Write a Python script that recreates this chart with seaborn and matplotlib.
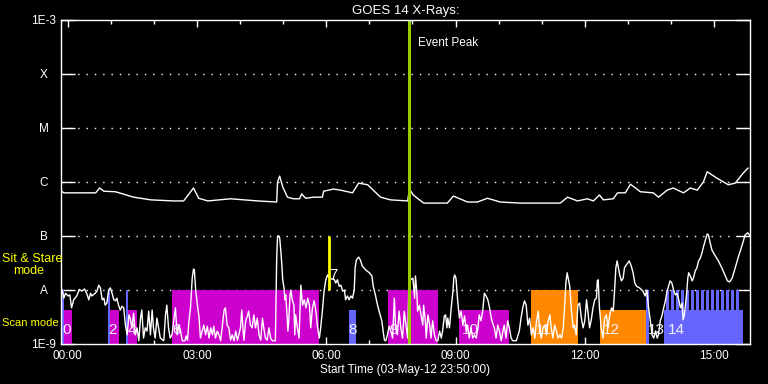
import numpy as np
import matplotlib
matplotlib.use("Agg")
import matplotlib.pyplot as plt
from matplotlib.ticker import MultipleLocator, NullLocator
import seaborn as sns

# time axis: hours after 00:00 (plot starts 23:50 the day before)
# GOES long channel (1-8 A), log10 flux
long_t = [-0.14, -0.09, 0.30, 0.65, 0.74, 0.84, 1.11, 1.53, 1.93, 2.46,
          2.69, 2.92, 3.04, 3.25, 3.78, 4.41, 4.85, 4.87, 4.92, 4.99,
          5.10, 5.24, 5.38, 5.43, 5.52, 5.71, 5.91, 5.94, 6.17, 6.33,
          6.61, 6.75, 6.96, 7.26, 7.49, 7.89, 7.93, 8.02, 8.26, 8.81,
          8.95, 9.28, 9.51, 9.74, 10.04, 10.51, 11.43, 11.60, 11.83, 12.06,
          12.20, 12.34, 12.43, 12.66, 12.76, 12.94, 13.06, 13.29, 13.59, 13.71,
          13.91, 14.05, 14.29, 14.45, 14.61, 14.75, 14.84, 15.07, 15.33, 15.49,
          15.68, 15.79]
long_log = [-6.18, -6.21, -6.21, -6.21, -6.12, -6.18, -6.19, -6.29, -6.34, -6.36,
            -6.36, -6.12, -6.31, -6.36, -6.32, -6.36, -6.38, -6.01, -5.90, -6.10,
            -6.29, -6.32, -6.32, -6.23, -6.31, -6.29, -6.29, -6.18, -6.14, -6.16,
            -6.21, -6.03, -6.06, -6.29, -6.34, -6.36, -6.14, -6.25, -6.40, -6.40,
            -6.27, -6.38, -6.38, -6.31, -6.38, -6.40, -6.40, -6.29, -6.36, -6.32,
            -6.36, -6.25, -6.34, -6.32, -6.21, -6.21, -6.05, -6.19, -6.21, -6.29,
            -6.16, -6.12, -6.21, -6.12, -6.16, -6.01, -5.82, -5.94, -6.06, -6.03,
            -5.84, -5.75]

# short channel (0.5-4 A), log10 flux
short_t = [-0.13, -0.09, -0.05, 0.01, 0.05, 0.09, 0.14, 0.21, 0.27, 0.33,
           0.39, 0.44, 0.49, 0.53, 0.56, 0.64, 0.68, 0.72, 0.76, 0.80,
           0.84, 0.87, 0.91, 0.95, 0.99, 1.03, 1.07, 1.11, 1.14, 1.18,
           1.22, 1.26, 1.30, 1.34, 1.38, 1.42, 1.45, 1.49, 1.53, 1.57,
           1.61, 1.65, 1.69, 1.72, 1.76, 1.80, 1.84, 1.88, 1.92, 1.96,
           1.99, 2.03, 2.07, 2.11, 2.15, 2.23, 2.27, 2.30, 2.34, 2.38,
           2.42, 2.46, 2.50, 2.54,
           2.58, 2.62, 2.66, 2.72, 2.75, 2.78, 2.81, 2.85, 2.89, 2.92,
           2.94, 2.97, 3.01, 3.05, 3.08, 3.12, 3.16, 3.20, 3.24, 3.28,
           3.32, 3.36, 3.39, 3.43, 3.47, 3.51, 3.55, 3.59, 3.63, 3.66,
           3.70, 3.74, 3.78, 3.82, 3.86, 3.90, 3.94, 3.97, 4.01, 4.04,
           4.07, 4.09, 4.13, 4.17, 4.20, 4.24, 4.28, 4.32, 4.36, 4.40,
           4.44, 4.48, 4.52, 4.55, 4.59, 4.63, 4.67, 4.71, 4.75, 4.82,
           4.85, 4.87, 4.90, 4.92, 4.95, 4.97, 4.99, 5.02, 5.04, 5.06,
           5.09, 5.11, 5.13, 5.16, 5.18, 5.21, 5.25, 5.27,
           5.29, 5.33, 5.37, 5.41, 5.45, 5.49, 5.53, 5.57, 5.61, 5.64,
           5.68, 5.72, 5.76, 5.80, 5.84, 5.87, 5.91, 5.95, 5.99, 6.03,
           6.07, 6.19, 6.22, 6.26, 6.30, 6.34, 6.38, 6.42, 6.45, 6.49,
           6.53, 6.57, 6.61, 6.65, 6.67, 6.70, 6.75, 6.79, 6.84, 6.92,
           7.00, 7.06, 7.09, 7.14, 7.19, 7.24, 7.29, 7.32, 7.35, 7.38,
           7.42, 7.46, 7.50, 7.54, 7.58, 7.61, 7.65, 7.69, 7.73, 7.77,
           7.81, 7.85, 7.89, 7.92, 7.96,
           8.01, 8.05, 8.07, 8.10, 8.12, 8.16, 8.20, 8.24, 8.26, 8.30,
           8.32, 8.36, 8.40, 8.43, 8.47, 8.51, 8.55, 8.59, 8.63, 8.67,
           8.70, 8.74, 8.77, 8.80, 8.82, 8.86, 8.90, 8.94, 8.96, 8.98,
           9.01, 9.05, 9.09, 9.13, 9.17, 9.21, 9.25, 9.28, 9.32, 9.36,
           9.40, 9.44, 9.48, 9.52, 9.55, 9.59, 9.63, 9.67, 9.71, 9.75,
           9.79, 9.83, 9.86, 9.90, 9.94, 9.98, 10.02, 10.06, 10.10, 10.13,
           10.17, 10.21, 10.25, 10.29, 10.33, 10.41, 10.48, 10.52, 10.56, 10.60,
           10.64, 10.68,
           10.72, 10.76, 10.80, 10.84, 10.88, 10.92, 10.95, 10.99, 11.03, 11.07,
           11.11, 11.15, 11.19, 11.22, 11.26, 11.30, 11.34, 11.38, 11.42, 11.46,
           11.50, 11.53, 11.56, 11.59, 11.62, 11.65, 11.69, 11.73, 11.76, 11.80,
           11.84, 11.88, 11.92, 11.96, 12.00, 12.04, 12.08, 12.11, 12.15, 12.19,
           12.23, 12.27, 12.29, 12.31, 12.34, 12.38, 12.42, 12.46, 12.50, 12.54,
           12.58, 12.62, 12.66, 12.69, 12.72, 12.75, 12.78, 12.81, 12.85, 12.89,
           12.92, 12.96, 13.03, 13.08, 13.12, 13.16, 13.20, 13.27, 13.35,
           13.40, 13.44, 13.48, 13.52, 13.56, 13.60, 13.64, 13.68, 13.71, 13.75,
           13.79, 13.83, 13.87, 13.91, 13.95, 13.98, 14.02, 14.06, 14.10, 14.14,
           14.18, 14.22, 14.26, 14.28, 14.31, 14.36, 14.39, 14.41, 14.45, 14.49,
           14.52, 14.56, 14.60, 14.64, 14.68, 14.72, 14.76, 14.80, 14.84, 14.87,
           14.91, 14.95, 15.03, 15.10, 15.18, 15.26, 15.31, 15.36, 15.42, 15.49,
           15.57, 15.65, 15.72, 15.78, 15.84]
short_log = [-8.00, -8.16, -8.07, -8.12, -8.10, -8.34, -8.19, -8.12, -8.00, -8.03,
             -7.99, -8.07, -8.19, -8.07, -8.12, -8.07, -8.03, -7.92, -7.97, -8.19,
             -8.16, -8.29, -8.25, -8.01, -7.97, -8.07, -8.19, -8.21, -8.16, -8.29,
             -8.38, -8.31, -8.34, -8.66, -8.84, -8.47, -8.53, -8.71, -8.44, -8.84,
             -8.71, -8.95, -8.53, -8.38, -8.90, -8.71, -8.77, -8.40, -8.84, -8.38,
             -8.71, -8.90, -8.53, -8.71, -8.90, -8.95, -8.47, -8.29, -8.71, -8.90,
             -8.84, -8.58, -8.34, -8.84,
             -8.66, -8.77, -8.95, -8.95, -8.86, -8.94, -8.62, -8.34, -7.79, -7.62,
             -7.64, -8.01, -8.29, -8.53, -8.90, -8.77, -8.66, -8.84, -8.68, -8.90,
             -8.71, -8.84, -8.68, -8.90, -8.77, -8.84, -8.95, -8.66, -8.38, -8.34,
             -8.66, -8.71, -8.94, -8.84, -8.95, -8.77, -8.94, -8.84, -8.71, -8.38,
             -8.75, -8.94, -8.58, -8.49, -8.40, -8.66, -8.71, -8.47, -8.71, -8.53,
             -8.84, -8.94, -8.53, -8.71, -8.90, -8.94, -8.71, -8.90, -8.95, -8.95,
             -7.42, -7.01, -7.01, -7.05, -7.32, -7.55, -7.82, -7.97, -8.19, -8.10,
             -8.47, -8.77, -8.58, -8.10, -8.01, -8.19, -8.29, -8.84,
             -8.47, -8.71, -8.90, -7.92, -8.29, -8.19, -8.34, -8.16, -8.29, -8.71,
             -8.34, -8.21, -8.40, -8.71, -8.90, -8.71, -8.40, -8.03, -7.82, -7.73,
             -7.79, -7.82, -7.88, -7.82, -7.94, -7.92, -8.03, -8.01, -8.19, -8.12,
             -8.19, -8.12, -8.16, -8.01, -7.60, -7.45, -7.40, -7.45, -7.57, -7.64,
             -7.69, -7.75, -7.94, -8.10, -8.29, -8.44, -8.58, -8.77, -8.94, -8.95,
             -8.84, -8.68, -8.77, -8.90, -8.16, -8.71, -8.84, -8.40, -8.71, -8.90,
             -8.40, -8.66, -8.90, -7.75, -7.82,
             -7.79, -8.16, -7.75, -8.03, -8.40, -8.29, -8.47, -8.66, -8.29, -8.58,
             -8.90, -8.47, -8.66, -8.90, -8.58, -8.84, -8.95, -8.95, -8.77, -8.90,
             -8.77, -8.49, -8.47, -8.71, -8.53, -8.71, -8.34, -8.03, -7.79, -7.73,
             -7.79, -8.21, -8.53, -8.40, -8.66, -8.49, -8.77, -8.66, -8.90, -8.71,
             -8.90, -8.84, -8.90, -8.71, -8.47, -8.58, -8.40, -8.07, -8.12, -8.19,
             -8.34, -8.53, -8.62, -8.71, -8.90, -8.66, -8.77, -8.95, -8.77, -8.66,
             -8.90, -8.58, -8.71, -8.90, -8.95, -8.95, -8.77, -8.53, -8.34, -8.21,
             -8.29, -8.66,
             -8.53, -8.84, -8.71, -8.90, -8.58, -8.40, -8.77, -8.90, -8.71, -8.66,
             -8.84, -8.58, -8.47, -8.71, -8.90, -8.66, -8.77, -8.90, -8.84, -8.90,
             -8.71, -8.34, -7.88, -7.69, -7.82, -7.94, -8.40, -8.71, -8.66, -8.84,
             -8.29, -8.25, -8.53, -8.71, -8.58, -8.19, -8.47, -8.71, -8.56, -8.34,
             -8.19, -8.16, -7.84, -7.82, -8.34, -8.71, -8.90, -8.53, -8.47, -8.71,
             -8.47, -8.34, -8.40, -8.03, -7.60, -7.47, -7.60, -7.73, -7.84, -7.79,
             -7.60, -7.55, -7.47, -7.57, -7.69, -7.88, -7.94, -7.97, -8.03,
             -8.12, -8.01, -8.34, -8.58, -8.84, -8.90, -8.77, -8.90, -8.84, -8.58,
             -8.49, -8.34, -8.21, -8.03, -7.92, -7.84, -7.88, -8.01, -8.10, -8.07,
             -8.19, -8.34, -8.25, -8.56, -8.47, -8.10, -7.79, -7.69, -7.75, -7.84,
             -7.79, -7.66, -7.60, -7.47, -7.42, -7.32, -7.19, -7.08, -6.97, -6.99,
             -7.14, -7.27, -7.38, -7.47, -7.60, -7.75, -7.84, -7.86, -7.79, -7.60,
             -7.38, -7.18, -6.99, -6.95, -7.01]

# observing mode timeline: start, end, mode, colour
mode_start = [-0.13, -0.09, 0.93, 0.98, 1.35, 1.40, 2.43, 6.52, 7.44, 9.09, 10.74, 12.36, 13.42, 13.84]
mode_end = [-0.09, 0.10, 0.98, 1.18, 1.40, 1.60, 5.84, 6.68, 8.60, 10.25, 11.84, 13.42, 13.49, 15.67]
mode_kind = ["stare", "scan", "stare", "scan", "stare", "scan", "stare",
             "scan", "stare", "scan", "stare", "scan", "stare", "scan"]
mode_color = ["#6666ff", "#cc00cc", "#6666ff", "#cc00cc", "#6666ff", "#cc00cc", "#cc00cc",
              "#6666ff", "#cc00cc", "#cc00cc", "#ff8800", "#ff8800", "#6666ff", "#6666ff"]
stripe_start = [13.89, 14.00, 14.12, 14.24, 14.35, 14.47, 14.58, 14.70,
                14.82, 14.93, 15.05, 15.16, 15.28, 15.40, 15.51]
stripe_width = 0.065

mode_labels = ["0", "2", "4", "6", "8", "9", "10", "11", "12", "13", "14"]
mode_label_t = [-0.02, 1.04, 1.48, 2.53, 6.62, 7.56, 9.34, 11.04, 12.61, 13.66, 14.12]

stare_event_t = 6.07
peak_t = 7.91

level_vals = [1e-9, 1e-8, 1e-7, 1e-6, 1e-5, 1e-4, 1e-3]
level_names = ["1E-9", "A", "B", "C", "M", "X", "1E-3"]
hour_ticks = [0, 3, 6, 9, 12, 15]
hour_labels = ["00:00", "03:00", "06:00", "09:00", "12:00", "15:00"]

stare_top = 1e-8
scan_top = 10 ** -8.38
floor = 1e-9

sns.set_theme(style="ticks", rc={
    "figure.facecolor": "black", "axes.facecolor": "black",
    "axes.edgecolor": "white", "text.color": "white",
    "xtick.color": "white", "ytick.color": "white", "axes.labelcolor": "white",
})
plt.rcParams["font.family"] = ["Liberation Sans", "DejaVu Sans"]

fig = plt.figure(figsize=(7.68, 3.84), dpi=100)
ax = fig.add_axes([60.5 / 768, 1 - 343.5 / 384, 689.5 / 768, 324 / 384])
ax.set_yscale("log")

# dotted class levels
for lev in level_vals[1:-1]:
    ax.axhline(lev, color="white", lw=1, ls=(0, (1, 5)), zorder=0.5)

# mode bars
for s, e, k, c in zip(mode_start, mode_end, mode_kind, mode_color):
    top = stare_top if k == "stare" else scan_top
    ax.bar(s, top - floor, width=e - s, bottom=floor, align="edge",
           color=c, linewidth=0, zorder=1)
for s in stripe_start:
    ax.bar(s, stare_top - floor, width=stripe_width, bottom=floor, align="edge",
           color="#6666ff", linewidth=0, zorder=1)

for t, s in zip(mode_label_t, mode_labels):
    ax.text(t, 10 ** -8.75, s, ha="center", va="center", color="#f4f0ff",
            fontsize=11, zorder=2)

sns.lineplot(x=short_t, y=10 ** np.array(short_log), ax=ax, color="white",
             lw=1, estimator=None, sort=False, zorder=3)
sns.lineplot(x=long_t, y=10 ** np.array(long_log), ax=ax, color="white",
             lw=1, estimator=None, sort=False, zorder=3)

ax.vlines(stare_event_t, 1e-8, 1e-7, color="#ffff00", lw=2, zorder=4)
ax.text(stare_event_t + 0.1, 10 ** -7.73, "7", ha="center", va="center",
        color="white", fontsize=11, zorder=4)
ax.axvline(peak_t, color="#99cc00", lw=2.2, zorder=4)
ax.text(peak_t + 0.23, 10 ** -3.435, "Event Peak", va="center", ha="left",
        color="white", fontsize=8.5)

ax.set_xlim(-1 / 6, 15 + 5 / 6)
ax.set_ylim(1e-9, 1e-3)
ax.set_yticks(level_vals)
ax.set_yticklabels(level_names)
ax.yaxis.set_minor_locator(NullLocator())
ax.set_xticks(hour_ticks)
ax.set_xticklabels(hour_labels)
ax.xaxis.set_minor_locator(MultipleLocator(1))
ax.tick_params(axis="y", which="major", direction="in", length=10, width=1,
               left=True, right=True, pad=12, labelsize=8.5, colors="white")
for lbl in ax.get_yticklabels():
    lbl.set_horizontalalignment("center")
ax.tick_params(axis="x", which="major", direction="in", length=5, width=1,
               top=True, bottom=True, pad=5, labelsize=8.5, colors="white")
ax.tick_params(axis="x", which="minor", direction="in", length=3, width=1,
               top=True, bottom=True, colors="white")
for sp in ax.spines.values():
    sp.set_color("white")
    sp.set_linewidth(1)
    sp.set_zorder(5)

ax.set_title("GOES 14 X-Rays:", color="white", fontsize=9.5, pad=4)
ax.set_xlabel("Start Time (03-May-12 23:50:00)", color="white", fontsize=8.5, labelpad=1)
ax.set_ylabel("")

fig.text(2 / 768, 1 - 259 / 384, "Sit & Stare", color="#ffff00", fontsize=9,
         va="center", ha="left")
fig.text(13 / 768, 1 - 271 / 384, "mode", color="#ffff00", fontsize=9,
         va="center", ha="left")
fig.text(2 / 768, 1 - 323.5 / 384, "Scan mode", color="#ffff00", fontsize=8,
         va="center", ha="left")

fig.savefig("out.png", dpi=100, facecolor="black")
